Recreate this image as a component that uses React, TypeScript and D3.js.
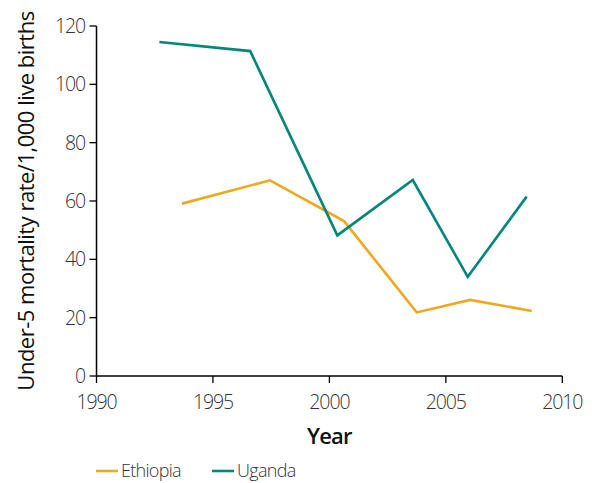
import React from "react";
import * as d3 from "d3";

const ethiopiaYears = [1993.67, 1997.45, 2000.63, 2003.75, 2006.04, 2008.69];
const ethiopiaValues = [59.1, 67.1, 53.1, 21.8, 26.1, 22.3];
const ugandaYears = [1992.7, 1996.6, 2000.34, 2003.58, 2005.94, 2008.47];
const ugandaValues = [114.5, 111.4, 48.2, 67.2, 34.0, 61.5];
const xTicks = [1990, 1995, 2000, 2005, 2010];
const yTicks = [0, 20, 40, 60, 80, 100, 120];
const seriesNames = ["Ethiopia", "Uganda"];
const seriesColors = ["#EFA81F", "#00877A"];

const FONT = "'Open Sans', 'Noto Sans', sans-serif";

export default function App() {
  const W = 592, H = 483;
  const x = d3.scaleLinear().domain([1990, 2010]).range([96.5, 562.3]);
  const y = d3.scaleLinear().domain([0, 120]).range([376, 26]);
  const line = d3.line<[number, number]>().x(d => x(d[0])).y(d => y(d[1]));
  const eth: [number, number][] = ethiopiaYears.map((yr, i) => [yr, ethiopiaValues[i]]);
  const uga: [number, number][] = ugandaYears.map((yr, i) => [yr, ugandaValues[i]]);
  const legendX = [96, 212];
  return (
    <svg width={W} height={H} style={{ position: "absolute", left: 0, top: 0, background: "#fff" }}>
      <rect width={W} height={H} fill="#fff" />
      {/* y axis */}
      <line x1={x(1990)} x2={x(1990)} y1={y(120)} y2={y(0)} stroke="#000" strokeWidth={1.5} />
      {yTicks.map(t => (
        <g key={"y" + t}>
          <line x1={x(1990) - 7} x2={x(1990)} y1={y(t)} y2={y(t)} stroke="#000" strokeWidth={1.3} />
          <text x={85} y={y(t)} dy="0.36em" textAnchor="end" fontFamily={FONT} fontSize={19.5} fontWeight={300} fill="#333" letterSpacing={-1.1}>{t}</text>
        </g>
      ))}
      {/* x axis */}
      <line x1={x(1990)} x2={x(2010)} y1={y(0)} y2={y(0)} stroke="#000" strokeWidth={1.5} />
      {xTicks.map(t => (
        <g key={"x" + t}>
          <line x1={x(t)} x2={x(t)} y1={y(0)} y2={y(0) + 7} stroke="#000" strokeWidth={1.3} />
          <text x={x(t)} y={409} textAnchor="middle" fontFamily={FONT} fontSize={19.5} fontWeight={300} fill="#333" letterSpacing={-1.1}>{t}</text>
        </g>
      ))}
      <text x={x(2000)} y={444} textAnchor="middle" fontFamily={FONT} fontSize={22} fontWeight={600} fill="#111" letterSpacing={-0.8}>Year</text>
      <text transform={`translate(34,${201}) rotate(-90)`} textAnchor="middle" fontFamily={FONT} fontSize={22} fill="#111" letterSpacing={-0.5}>Under-5 mortality rate/1,000 live births</text>
      {/* lines */}
      <path d={line(eth) || ""} fill="none" stroke={seriesColors[0]} strokeWidth={2.6} strokeLinejoin="miter" />
      <path d={line(uga) || ""} fill="none" stroke={seriesColors[1]} strokeWidth={2.6} strokeLinejoin="miter" />
      {/* legend */}
      {seriesNames.map((n, i) => (
        <g key={n}>
          <line x1={legendX[i]} x2={legendX[i] + 22} y1={471} y2={471} stroke={seriesColors[i]} strokeWidth={2.6} />
          <text x={legendX[i] + 25} y={477} fontFamily={FONT} fontSize={18} fontWeight={300} fill="#333" letterSpacing={-0.7}>{n}</text>
        </g>
      ))}
    </svg>
  );
}
